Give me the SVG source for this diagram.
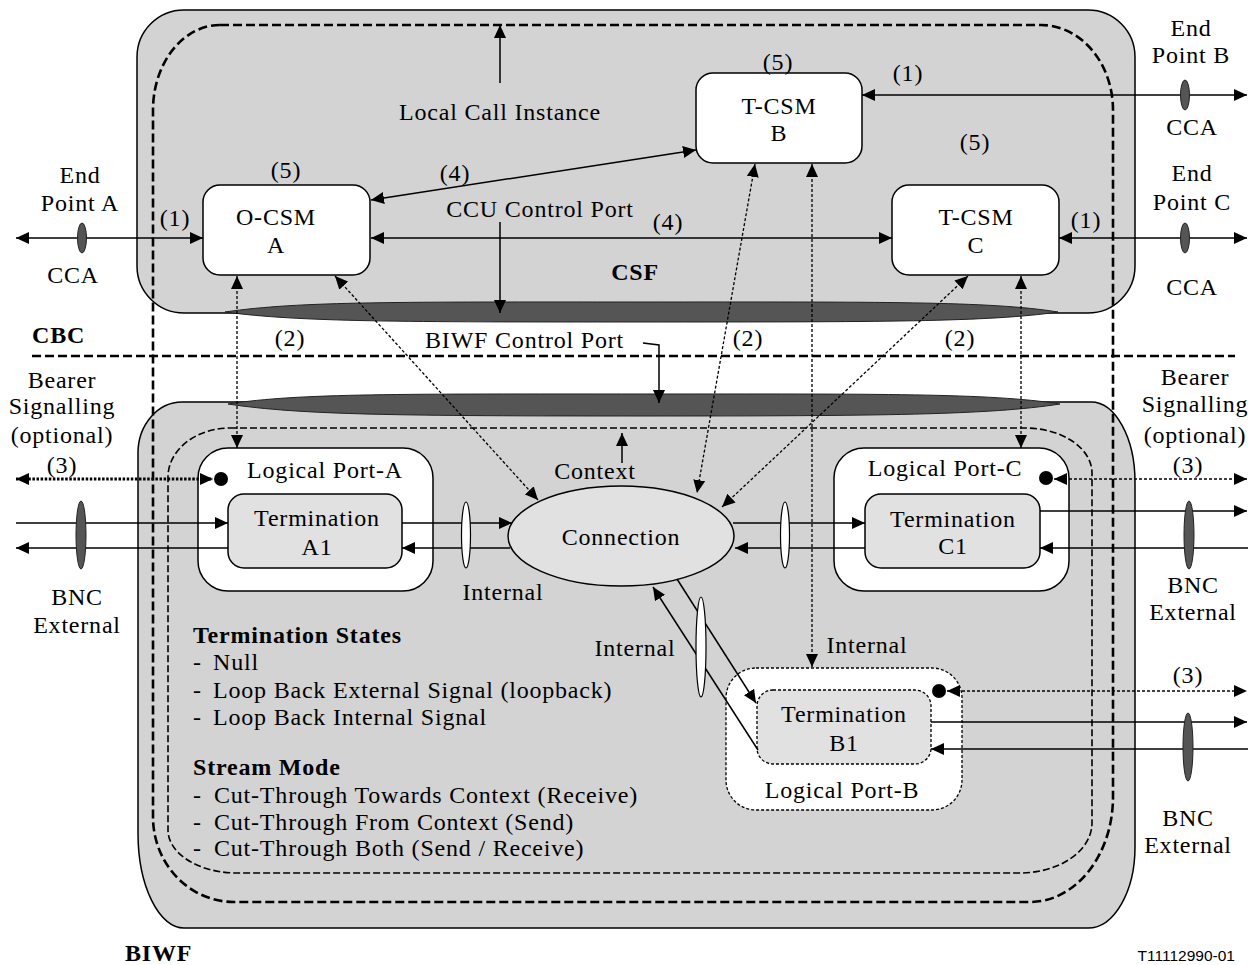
<svg xmlns="http://www.w3.org/2000/svg" width="1248" height="965" viewBox="0 0 1248 965">
<style>
text{font-family:"Liberation Serif","Times New Roman",serif;font-size:24px;fill:#000;letter-spacing:0.8px}
.m{text-anchor:middle}
.b{font-weight:bold}
.lbl{font-family:"Liberation Sans",Arial,sans-serif;font-size:15.5px;letter-spacing:0}
.ln{stroke:#000;stroke-width:1.5;fill:none}
.dot{stroke:#000;stroke-width:1.3;fill:none;stroke-dasharray:3 2}
.dot3{stroke:#000;stroke-width:3;fill:none;stroke-dasharray:2.5 1.6}
.dot3r{stroke:#000;stroke-width:1.6;fill:none;stroke-dasharray:3 2}
.thick{stroke:#000;stroke-width:2.6;fill:none;stroke-dasharray:9 4}
.thin{stroke:#000;stroke-width:1.6;fill:none;stroke-dasharray:7 3}
.gray{fill:#d3d3d3;stroke:#000;stroke-width:1.5}
.box{fill:#fff;stroke:#000;stroke-width:1.5}
.term{fill:#e1e1e1;stroke:#000;stroke-width:1.5}
.dk{fill:#555;stroke:#222;stroke-width:1}
.wh{fill:#fff;stroke:#000;stroke-width:1.2}
</style>
<defs>
<marker id="ah" viewBox="0 0 13 12" refX="13" refY="6" markerWidth="13" markerHeight="12" markerUnits="userSpaceOnUse" orient="auto-start-reverse"><path d="M0,0 L13,6 L0,12 z" fill="#000" stroke="none"/></marker>
</defs>

<!-- CSF area -->
<g id="csf">
<rect class="gray" x="137" y="10" width="998" height="303" rx="47" ry="47"/>
<path class="dk" d="M225,312 C300,301 400,302 641,302 C880,302 990,301 1058,312 C990,322 880,322 641,322 C400,322 300,322 225,312 Z"/>
<text class="m b" x="635" y="280">CSF</text>
</g>

<!-- BIWF area -->
<g id="biwf">
<path class="gray" d="M182,402 L1091,402 A44,80 0 0 1 1135,482 L1135,847 A47,81 0 0 1 1088,928 L184,928 A46,95 0 0 1 138,833 L138,453 A44,51 0 0 1 182,402 Z"/>
<path class="dk" d="M228,404 C300,393 400,394 644,394 C880,394 990,393 1060,404 C990,415 880,416 644,416 C400,416 300,415 228,404 Z"/>
<text class="b" x="125" y="961">BIWF</text>
</g>

<!-- Local call instance boundary -->
<g id="local-call-instance">
<path class="thick" d="M220,25 L1041,25 A72,85 0 0 1 1113,110 L1113,797 A83,105 0 0 1 1030,902 L234,902 A81,85 0 0 1 153,817 L153,110 A67,85 0 0 1 220,25 Z"/>
<text class="m" x="500" y="120">Local Call Instance</text>
</g>

<!-- Context boundary -->
<g id="context">
<path class="thin" d="M230,428 L1025,428 A67,45 0 0 1 1092,473 L1092,823 A72,50 0 0 1 1020,873 L237,873 A69,43 0 0 1 168,830 L168,477 A62,49 0 0 1 230,428 Z"/>
<text class="m" x="595" y="479">Context</text>
</g>

<!-- CBC divider -->
<g id="cbc">
<line class="thick" x1="32" y1="356" x2="1235" y2="356"/>
<text class="b" x="32" y="343">CBC</text>
</g>

<!-- CSM nodes -->
<g id="ocsm-a">
<rect class="box" x="203" y="185" width="167" height="90" rx="17"/>
<text class="m" x="276" y="225">O-CSM</text>
<text class="m" x="276" y="253">A</text>
<text class="m" x="286" y="178">(5)</text>
</g>
<g id="tcsm-b">
<rect class="box" x="696" y="73" width="166" height="90" rx="17"/>
<text class="m" x="779" y="114">T-CSM</text>
<text class="m" x="779" y="141">B</text>
<text class="m" x="778" y="70">(5)</text>
</g>
<g id="tcsm-c">
<rect class="box" x="892" y="185" width="167" height="90" rx="17"/>
<text class="m" x="976" y="225">T-CSM</text>
<text class="m" x="976" y="253">C</text>
<text class="m" x="975" y="150">(5)</text>
</g>

<!-- Logical ports -->
<g id="logical-port-a">
<rect class="box" x="198" y="448" width="235" height="143" rx="30"/>
<text class="m" x="325" y="478">Logical Port-A</text>
<circle cx="221" cy="479" r="7" fill="#000"/>
</g>
<g id="termination-a1">
<rect class="term" x="228" y="494" width="174" height="74" rx="16"/>
<text class="m" x="317" y="526">Termination</text>
<text class="m" x="317" y="555">A1</text>
</g>
<g id="logical-port-c">
<rect class="box" x="834" y="448" width="235" height="143" rx="30"/>
<text class="m" x="945" y="476">Logical Port-C</text>
<circle cx="1046" cy="478" r="7" fill="#000"/>
</g>
<g id="termination-c1">
<rect class="term" x="865" y="494" width="175" height="74" rx="16"/>
<text class="m" x="953" y="527">Termination</text>
<text class="m" x="953" y="554">C1</text>
</g>
<g id="logical-port-b">
<rect x="726" y="668" width="236" height="142" rx="30" fill="#fff" stroke="#000" stroke-width="1.3" stroke-dasharray="3 2"/>
<text class="m" x="842" y="798">Logical Port-B</text>
<circle cx="939" cy="691" r="7" fill="#000"/>
</g>
<g id="termination-b1">
<rect x="757" y="690" width="174" height="74" rx="16" fill="#e1e1e1" stroke="#000" stroke-width="1.3" stroke-dasharray="3 2"/>
<text class="m" x="844" y="722">Termination</text>
<text class="m" x="844" y="751">B1</text>
</g>

<!-- Connection -->
<g id="connection">
<ellipse cx="621" cy="536" rx="113" ry="50" fill="#e1e1e1" stroke="#000" stroke-width="1.5"/>
<text class="m" x="621" y="545">Connection</text>
</g>

<!-- Connectors -->
<g id="connectors">
<line class="ln" x1="16" y1="238" x2="203" y2="238" marker-start="url(#ah)" marker-end="url(#ah)"/>
<line class="ln" x1="371" y1="200" x2="696" y2="150" marker-start="url(#ah)" marker-end="url(#ah)"/>
<line class="ln" x1="371" y1="238" x2="892" y2="238" marker-start="url(#ah)" marker-end="url(#ah)"/>
<line class="ln" x1="862" y1="95" x2="1247" y2="95" marker-start="url(#ah)" marker-end="url(#ah)"/>
<line class="ln" x1="1059" y1="238" x2="1247" y2="238" marker-start="url(#ah)" marker-end="url(#ah)"/>
<line class="ln" x1="500" y1="83" x2="500" y2="25" marker-end="url(#ah)"/>
<line class="ln" x1="500" y1="222" x2="500" y2="313" marker-end="url(#ah)"/>
<path class="ln" d="M643,343 L659,345 L659,403" marker-end="url(#ah)"/>
<line class="ln" x1="622" y1="463" x2="622" y2="433" marker-end="url(#ah)"/>

<line class="dot" x1="237" y1="276" x2="237" y2="448" marker-start="url(#ah)" marker-end="url(#ah)"/>
<line class="dot" x1="335" y1="276" x2="538" y2="500" marker-start="url(#ah)" marker-end="url(#ah)"/>
<line class="dot" x1="755" y1="164" x2="697" y2="493" marker-start="url(#ah)" marker-end="url(#ah)"/>
<line class="dot" x1="812" y1="164" x2="812" y2="667" marker-start="url(#ah)" marker-end="url(#ah)"/>
<line class="dot" x1="968" y1="276" x2="722" y2="507" marker-start="url(#ah)" marker-end="url(#ah)"/>
<line class="dot" x1="1021" y1="276" x2="1021" y2="448" marker-start="url(#ah)" marker-end="url(#ah)"/>

<line class="dot3" x1="16" y1="479" x2="213" y2="479" marker-start="url(#ah)" marker-end="url(#ah)"/>
<line class="dot3r" x1="1054" y1="479" x2="1247" y2="479" marker-start="url(#ah)" marker-end="url(#ah)"/>
<line class="dot3r" x1="947" y1="691" x2="1247" y2="691" marker-start="url(#ah)" marker-end="url(#ah)"/>

<line class="ln" x1="16" y1="523" x2="228" y2="523" marker-end="url(#ah)"/>
<line class="ln" x1="228" y1="548" x2="16" y2="548" marker-end="url(#ah)"/>
<line class="ln" x1="402" y1="523" x2="512" y2="523" marker-end="url(#ah)"/>
<line class="ln" x1="510" y1="548" x2="402" y2="548" marker-end="url(#ah)"/>
<line class="ln" x1="733" y1="523" x2="865" y2="523" marker-end="url(#ah)"/>
<line class="ln" x1="865" y1="548" x2="735" y2="548" marker-end="url(#ah)"/>
<line class="ln" x1="1040" y1="511" x2="1247" y2="511" marker-end="url(#ah)"/>
<line class="ln" x1="1248" y1="548" x2="1040" y2="548" marker-end="url(#ah)"/>
<line class="ln" x1="677" y1="579" x2="756" y2="703" marker-end="url(#ah)"/>
<line class="ln" x1="758" y1="750" x2="653" y2="587" marker-end="url(#ah)"/>
<line class="ln" x1="931" y1="722" x2="1247" y2="722" marker-end="url(#ah)"/>
<line class="ln" x1="1248" y1="749" x2="931" y2="749" marker-end="url(#ah)"/>

<ellipse class="dk" cx="82" cy="238" rx="4.5" ry="15"/>
<ellipse class="dk" cx="1185" cy="95" rx="4.5" ry="15"/>
<ellipse class="dk" cx="1185" cy="238" rx="4.5" ry="15"/>
<ellipse class="dk" cx="81" cy="535" rx="5" ry="34"/>
<ellipse class="dk" cx="1189" cy="535" rx="5" ry="34"/>
<ellipse class="dk" cx="1188" cy="747" rx="5" ry="34"/>
<ellipse class="wh" cx="466" cy="535" rx="4.5" ry="33"/>
<ellipse class="wh" cx="785" cy="535" rx="4.5" ry="33"/>
<ellipse class="wh" cx="701" cy="647" rx="5" ry="50"/>
</g>

<!-- Labels -->
<g id="labels">
<text class="m" x="80" y="183">End</text>
<text class="m" x="80" y="211">Point A</text>
<text class="m" x="73" y="283">CCA</text>
<text class="m" x="175" y="226">(1)</text>
<text class="m" x="1191" y="36">End</text>
<text class="m" x="1191" y="63">Point B</text>
<text class="m" x="1192" y="135">CCA</text>
<text class="m" x="908" y="81">(1)</text>
<text class="m" x="1192" y="181">End</text>
<text class="m" x="1192" y="210">Point C</text>
<text class="m" x="1192" y="295">CCA</text>
<text class="m" x="1086" y="228">(1)</text>
<text class="m" x="455" y="181">(4)</text>
<text class="m" x="668" y="230">(4)</text>
<text class="m" x="540" y="217">CCU Control Port</text>
<text x="624" y="348" text-anchor="end">BIWF Control Port</text>
<text class="m" x="290" y="346">(2)</text>
<text class="m" x="748" y="346">(2)</text>
<text class="m" x="960" y="346">(2)</text>
<text class="m" x="62" y="388">Bearer</text>
<text class="m" x="62" y="414">Signalling</text>
<text class="m" x="62" y="443">(optional)</text>
<text class="m" x="62" y="473">(3)</text>
<text class="m" x="1195" y="385">Bearer</text>
<text class="m" x="1195" y="412">Signalling</text>
<text class="m" x="1195" y="443">(optional)</text>
<text class="m" x="1188" y="473">(3)</text>
<text class="m" x="1188" y="683">(3)</text>
<text class="m" x="77" y="605">BNC</text>
<text class="m" x="77" y="633">External</text>
<text class="m" x="1193" y="593">BNC</text>
<text class="m" x="1193" y="620">External</text>
<text class="m" x="1188" y="826">BNC</text>
<text class="m" x="1188" y="853">External</text>
<text class="m" x="503" y="600">Internal</text>
<text class="m" x="635" y="656">Internal</text>
<text class="m" x="867" y="653">Internal</text>
<text class="b" x="193" y="643">Termination States</text>
<text x="193" y="670">-</text><text x="213" y="670">Null</text>
<text x="193" y="698">-</text><text x="213" y="698">Loop Back External Signal (loopback)</text>
<text x="193" y="725">-</text><text x="213" y="725">Loop Back Internal Signal</text>
<text class="b" x="193" y="775">Stream Mode</text>
<text x="193" y="803">-</text><text x="214" y="803">Cut-Through Towards Context (Receive)</text>
<text x="193" y="830">-</text><text x="214" y="830">Cut-Through From Context (Send)</text>
<text x="193" y="856">-</text><text x="214" y="856">Cut-Through Both (Send / Receive)</text>
<text class="lbl" x="1235" y="961" text-anchor="end">T11112990-01</text>
</g>
</svg>
